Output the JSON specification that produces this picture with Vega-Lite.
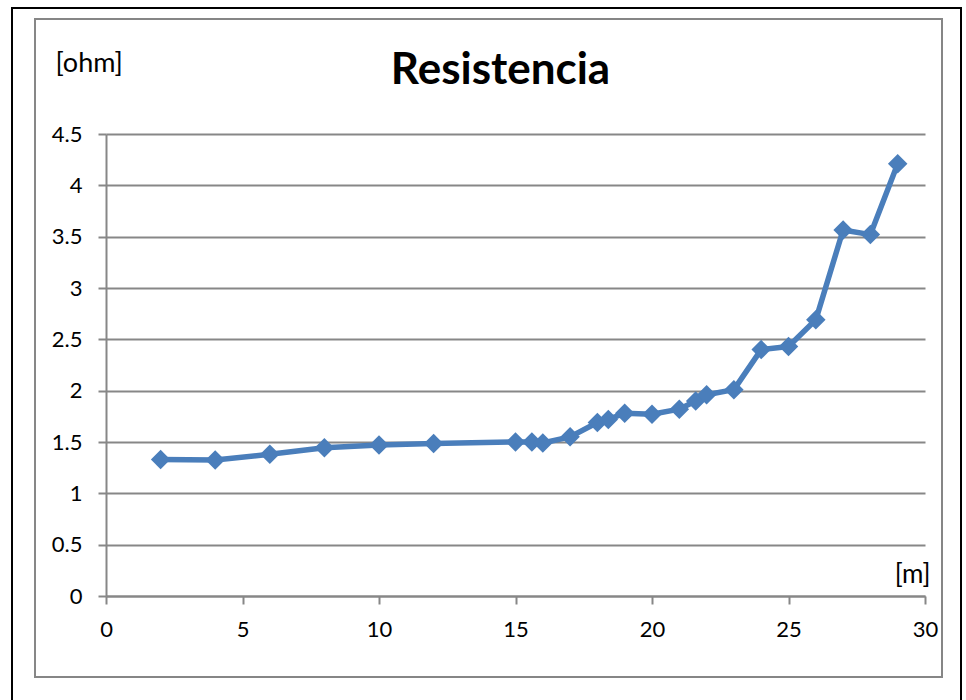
{
  "$schema": "https://vega.github.io/schema/vega-lite/v6.json",
  "width": 819,
  "height": 462,
  "autosize": {"type": "none"},
  "padding": {"left": 106, "top": 134, "right": 41, "bottom": 104},
  "background": "white",
  "config": {
    "font": "Lato",
    "view": {"stroke": null},
    "axis": {"labelFont": "Lato", "titleFont": "Lato"}
  },
  "title": {
    "text": "Resistencia",
    "font": "Lato",
    "fontSize": 44,
    "fontWeight": "bold",
    "color": "#000000",
    "anchor": "middle",
    "frame": "group",
    "baseline": "alphabetic",
    "offset": 0,
    "dx": -15,
    "dy": 121
  },
  "data": {
    "values": [
      {"m": 2, "ohm": 1.33},
      {"m": 4, "ohm": 1.325},
      {"m": 6, "ohm": 1.38},
      {"m": 8, "ohm": 1.445},
      {"m": 10, "ohm": 1.47},
      {"m": 12, "ohm": 1.485},
      {"m": 15, "ohm": 1.50},
      {"m": 15.6, "ohm": 1.50},
      {"m": 16, "ohm": 1.49},
      {"m": 17, "ohm": 1.55},
      {"m": 18, "ohm": 1.69},
      {"m": 18.4, "ohm": 1.72},
      {"m": 19, "ohm": 1.78},
      {"m": 20, "ohm": 1.77},
      {"m": 21, "ohm": 1.82},
      {"m": 21.6, "ohm": 1.90},
      {"m": 22, "ohm": 1.96},
      {"m": 23, "ohm": 2.01},
      {"m": 24, "ohm": 2.40},
      {"m": 25, "ohm": 2.43},
      {"m": 26, "ohm": 2.69},
      {"m": 27, "ohm": 3.565},
      {"m": 28, "ohm": 3.52},
      {"m": 29, "ohm": 4.21}
    ]
  },
  "layer": [
    {
      "mark": {"type": "rect", "fill": null, "stroke": "#000000", "strokeWidth": 1.5, "clip": false},
      "encoding": {
        "x": {"datum": -3.443, "type": "quantitative"},
        "x2": {"datum": 31.32},
        "y": {"datum": 5.727, "type": "quantitative"},
        "y2": {"datum": -1.08}
      }
    },
    {
      "mark": {"type": "rect", "fill": null, "stroke": "#878787", "strokeWidth": 1.5, "clip": false},
      "encoding": {
        "x": {"datum": -2.6, "type": "quantitative"},
        "x2": {"datum": 30.62},
        "y": {"datum": 5.62, "type": "quantitative"},
        "y2": {"datum": -0.789}
      }
    },
    {
      "mark": {"type": "line", "color": "#4A7EBB", "strokeWidth": 5.5, "strokeJoin": "round"},
      "encoding": {
        "x": {
          "field": "m",
          "type": "quantitative",
          "scale": {"domain": [0, 30], "nice": false, "zero": false},
          "axis": {
            "values": [0, 5, 10, 15, 20, 25, 30],
            "grid": false,
            "domainColor": "#878787",
            "domainWidth": 2,
            "tickColor": "#878787",
            "tickWidth": 2,
            "tickSize": 8,
            "labelFontSize": 22,
            "labelColor": "#000000",
            "labelPadding": 15,
            "labelFlush": false,
            "title": "[m]",
            "titleFontSize": 26,
            "titleFontWeight": "normal",
            "titleColor": "#000000",
            "titleAlign": "right",
            "titleBaseline": "middle",
            "titleAnchor": null,
            "titleX": 824,
            "titleY": -22
          }
        },
        "y": {
          "field": "ohm",
          "type": "quantitative",
          "scale": {"domain": [0, 4.5], "nice": false, "zero": false},
          "axis": {
            "values": [0, 0.5, 1, 1.5, 2, 2.5, 3, 3.5, 4, 4.5],
            "format": "~g",
            "grid": true,
            "gridColor": "#878787",
            "gridWidth": 2,
            "gridOpacity": 1,
            "domainColor": "#878787",
            "domainWidth": 2,
            "tickColor": "#878787",
            "tickWidth": 2,
            "tickSize": 8,
            "labelFontSize": 22,
            "labelColor": "#000000",
            "labelPadding": 16,
            "labelFlush": false,
            "title": "[ohm]",
            "titleFontSize": 27,
            "titleFontWeight": "normal",
            "titleColor": "#000000",
            "titleAngle": 0,
            "titleAlign": "left",
            "titleBaseline": "middle",
            "titleAnchor": null,
            "titleX": -51,
            "titleY": -71
          }
        }
      }
    },
    {
      "mark": {"type": "point", "shape": "diamond", "filled": true, "color": "#4A7EBB", "size": 380, "opacity": 1},
      "encoding": {
        "x": {"field": "m", "type": "quantitative"},
        "y": {"field": "ohm", "type": "quantitative"}
      }
    }
  ]
}
